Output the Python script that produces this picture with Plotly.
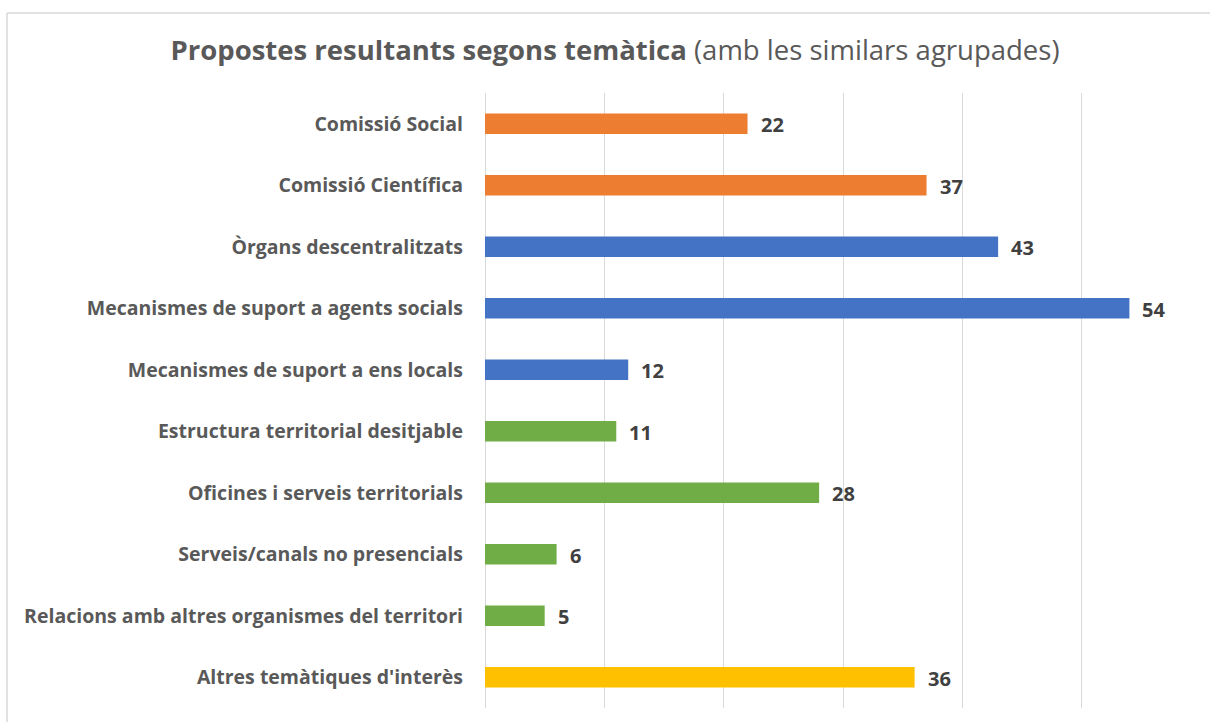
import plotly.graph_objects as go

categories = [
    "Comissió Social",
    "Comissió Científica",
    "Òrgans descentralitzats",
    "Mecanismes de suport a agents socials",
    "Mecanismes de suport a ens locals",
    "Estructura territorial desitjable",
    "Oficines i serveis territorials",
    "Serveis/canals no presencials",
    "Relacions amb altres organismes del territori",
    "Altres temàtiques d'interès",
]
values = [22, 37, 43, 54, 12, 11, 28, 6, 5, 36]
groups = ["orange", "orange", "blue", "blue", "blue", "green", "green", "green", "green", "yellow"]
palette = {"orange": "#ED7D31", "blue": "#4472C4", "green": "#70AD47", "yellow": "#FFC000"}
colors = [palette[g] for g in groups]

W, H = 1210, 722
L, R, T, B = 485, 9, 93, 14
FONT = "Open Sans"

fig = go.Figure()
fig.add_trace(go.Bar(
    x=values, y=categories, orientation="h",
    marker=dict(color=colors, line=dict(width=0)),
    width=0.33, hoverinfo="x+y",
))

for c, v in zip(categories, values):
    fig.add_annotation(x=v, y=c, text=f"<b>{v}</b>", showarrow=False,
                       xanchor="left", xshift=11, yshift=-1,
                       font=dict(family=FONT, size=20, color="#404040"))

def px_x(p):
    return (p - L) / (W - L - R)

def px_y(p):
    return 1 - (p - T) / (H - T - B)

# chart border (top and left)
fig.add_shape(type="line", xref="paper", yref="paper",
              x0=px_x(7), x1=px_x(1230), y0=px_y(13), y1=px_y(13),
              line=dict(color="#D9D9D9", width=1.5))
fig.add_shape(type="line", xref="paper", yref="paper",
              x0=px_x(7), x1=px_x(7), y0=px_y(13), y1=px_y(740),
              line=dict(color="#D9D9D9", width=1.5))

fig.update_layout(
    width=W, height=H,
    margin=dict(l=L, r=R, t=T, b=B),
    paper_bgcolor="white", plot_bgcolor="white",
    showlegend=False,
    bargap=0.67,
    title=dict(
        text="<b>Propostes resultants segons temàtica</b> (amb les similars agrupades)",
        x=615 / W, xref="container", xanchor="center",
        y=1 - 50 / H, yref="container", yanchor="middle",
        font=dict(family=FONT, size=27.5, color="#595959"),
    ),
    xaxis=dict(range=[0, 60], dtick=10, showgrid=True, gridcolor="#D9D9D9", gridwidth=1,
               showticklabels=False, zeroline=True, zerolinecolor="#D9D9D9", zerolinewidth=1,
               showline=False, fixedrange=True),
    yaxis=dict(categoryorder="array", categoryarray=categories, autorange="reversed",
               showgrid=False, showline=False, ticks="", ticklen=0,
               tickfont=dict(family=FONT, size=19.5, color="#595959"),
               ticklabelstandoff=21),
)
fig.update_yaxes(tickprefix="<b>", ticksuffix="</b>")

fig.write_html("out.html", post_script="document.body.style.margin='0';",
               config={"displayModeBar": False})
